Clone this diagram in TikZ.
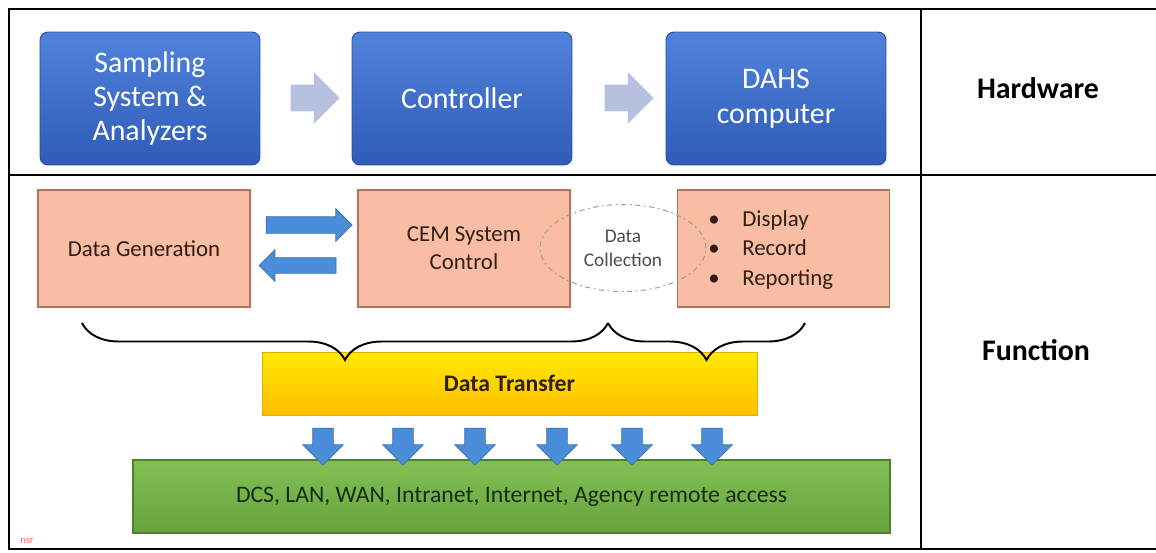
\documentclass[tikz,border=0pt]{standalone}
\usepackage{amsmath}
\usepackage{fontspec}
\setmainfont{Carlito}
\usetikzlibrary{shapes.geometric,shapes.arrows,decorations.pathreplacing}

\definecolor{hwtop}{RGB}{80,130,220}
\definecolor{hwbot}{RGB}{46,92,182}
\definecolor{arrowgray}{RGB}{182,193,224}
\definecolor{salmon}{RGB}{248,189,163}
\definecolor{salmonline}{RGB}{176,116,94}
\definecolor{fntext}{RGB}{48,30,20}
\definecolor{arrowblue}{RGB}{74,141,216}
\definecolor{dtop}{RGB}{255,234,0}
\definecolor{dbot}{RGB}{255,190,0}
\definecolor{gtop}{RGB}{128,192,84}
\definecolor{gbot}{RGB}{104,164,62}
\definecolor{gline}{RGB}{78,128,46}
\definecolor{gtext}{RGB}{22,44,12}

\begin{document}
\begin{tikzpicture}[x=0.02cm, y=-0.02cm,
    hwbox/.style={rounded corners=0.16cm, minimum width=4.4cm, minimum height=2.66cm,
      top color=hwtop, bottom color=hwbot, draw=hwbot!85!black, line width=0.5pt,
      text=white, align=center, font=\fontsize{17}{19.6}\selectfont},
    fnbox/.style={minimum width=4.24cm, minimum height=2.34cm, fill=salmon,
      draw=salmonline, line width=0.8pt, align=center, text=fntext,
      font=\fontsize{13}{16}\selectfont},
    grayarrow/.style={single arrow, fill=arrowgray, inner xsep=0pt, inner ysep=0.26cm,
      single arrow head extend=0.25cm, minimum height=0.98cm},
    bluearrow/.style={single arrow, fill=arrowblue, draw=arrowblue!80!black, line width=0.4pt,
      inner xsep=0pt},
    label/.style={font=\fontsize{17}{20}\selectfont\bfseries}]

    \useasboundingbox (0,0) rectangle (1156,552);

    % 外框
    \draw[line width=1.2pt] (1156,9) -- (9,9) -- (9,549) -- (1156,549);
    \draw[line width=1.2pt] (9,175) -- (1156,175);
    \draw[line width=1.2pt] (921,9) -- (921,549);

    \node[hwbox] (samp) at (150,98.5) {Sampling\\System \&\\Analyzers};
    \node[hwbox] (ctrl) at (462,98.5) {Controller};
    \node[hwbox] (dahs) at (776,98.5) {DAHS\\computer};
    \node[grayarrow] (ga1) at (308.5,98) {};
    \node[grayarrow] (ga2) at (622.5,98) {};

    \node[fnbox] (gen) at (144,248.5) {Data Generation};
    \node[fnbox] (cem) at (464,248.5) {CEM System\\Control};
    \node[fnbox] (disp) at (783.5,248.5) {};
    \node[anchor=west, inner sep=0pt, align=left, text=fntext,
      font=\fontsize{13}{17}\selectfont] (items) at (708,250)
      {\makebox[0.68cm][l]{\textbullet}Display\\
       \makebox[0.68cm][l]{\textbullet}Record\\
       \makebox[0.68cm][l]{\textbullet}Reporting};

    \node[bluearrow, inner ysep=0.16cm, single arrow head extend=0.16cm,
      minimum height=1.72cm] (fwd) at (305,225) {};
    \node[bluearrow, inner ysep=0.15cm, single arrow head extend=0.16cm,
      minimum height=1.54cm, shape border rotate=180] (back) at (301.5,265.5) {};

    \node[ellipse, draw=gray!75, line width=0.6pt, dash pattern=on 3pt off 2pt on 1pt off 2pt,
      minimum width=3.32cm, minimum height=1.74cm, align=center, text=black!70,
      font=\fontsize{11}{13.6}\selectfont] (coll) at (623,248) {Data\\Collection};

    \node[top color=dtop, bottom color=dbot, draw=dbot!90!black, line width=0.4pt,
      minimum width=9.9cm, minimum height=1.26cm,
      font=\fontsize{13.5}{16}\selectfont\bfseries, text=fntext] (xfer) at (509.5,383.5) {Data Transfer};

    \coordinate (b1) at (82,323);
    \coordinate (b2) at (608,323);
    \coordinate (b3) at (805,323);
    \draw[line width=1.1pt, decorate, decoration={brace, amplitude=0.74cm, mirror}] (b1) -- (b2);
    \draw[line width=1.1pt, decorate, decoration={brace, amplitude=0.74cm, mirror}] (b2) -- (b3);

    \node[top color=gtop, bottom color=gbot, draw=gline, line width=0.8pt,
      minimum width=15.14cm, minimum height=1.46cm,
      font=\fontsize{13.5}{16}\selectfont, text=gtext] (net) at (511.5,496.5)
      {DCS, LAN, WAN, Intranet, Internet, Agency remote access};

    \foreach \x [count=\i] in {323,403,475,557,632,712}
      \node[bluearrow, inner xsep=0.2cm, inner ysep=0pt, single arrow head extend=0.2cm,
        minimum height=0.74cm, shape border rotate=270] (down\i) at (\x,441.5) {};

    \node[label] (hw) at (1038,88) {Hardware};
    \node[label] (fn) at (1036,350) {Function};

    \node[text=red!60, font=\fontsize{6}{7}\selectfont] (logo) at (27,541) {nsr};

\end{tikzpicture}
\end{document}
